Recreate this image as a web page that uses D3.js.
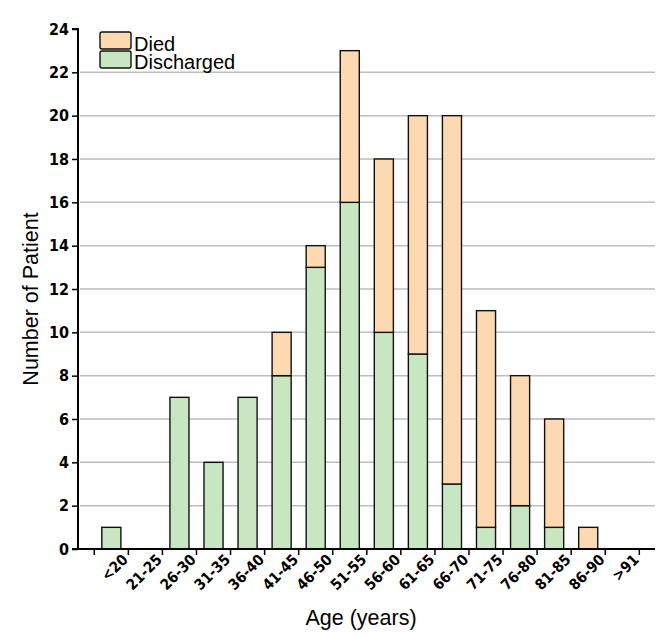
<!DOCTYPE html>
<html><head><meta charset="utf-8">
<script src="https://cdn.jsdelivr.net/npm/d3@7"></script>
<style>html,body{margin:0;padding:0;background:#fff;}</style>
</head><body>
<svg id="c" width="664" height="636"></svg>
<script>
const categories = ["<20","21-25","26-30","31-35","36-40","41-45","46-50","51-55","56-60","61-65","66-70","71-75","76-80","81-85","86-90",">91"];
const discharged = [1,0,7,4,7,8,13,16,10,9,3,1,2,1,0,0];
const died       = [0,0,0,0,0,2,1,7,8,11,17,10,6,5,1,0];
const yTicks = [0,2,4,6,8,10,12,14,16,18,20,22,24];
const seriesNames = ["Died","Discharged"];
const colors = {Died:"#fdd9b2", Discharged:"#c8e6c2"};

const tickFont = "'DejaVu Sans Condensed', 'DejaVu Sans', sans-serif";
const titleFont = "Arial, 'Liberation Sans', sans-serif";

const svg = d3.select("#c");
const x0 = 78, xEnd = 655, y0 = 549, yTop = 29;
const x = d3.scaleBand().domain(categories).range([94.3, 639.3]).paddingInner(0.44).paddingOuter(0.22);
const y = d3.scaleLinear().domain([0,24]).range([y0, yTop]);

// gridlines
svg.append("g").selectAll("line").data(yTicks.filter(t=>t>0 && t<24)).join("line")
  .attr("x1", x0+2).attr("x2", xEnd).attr("y1", d=>y(d)).attr("y2", d=>y(d))
  .attr("stroke","#bdbdbd").attr("stroke-width",1.5);

// stacked bars
const rows = categories.map((c,i)=>({cat:c, Discharged:discharged[i], Died:died[i]}));
const stack = d3.stack().keys(["Discharged","Died"])(rows);
svg.append("g").selectAll("g").data(stack).join("g")
  .attr("fill", d=>colors[d.key])
  .selectAll("rect").data(d=>d.filter(v=>v[1]-v[0]>0)).join("rect")
  .attr("x", d=>x(d.data.cat)).attr("width", x.bandwidth())
  .attr("y", d=>y(d[1])).attr("height", d=>y(d[0])-y(d[1]))
  .attr("stroke","#111").attr("stroke-width",1.4);

// y axis
const yAxis = d3.axisLeft(y).tickValues(yTicks).tickSize(6).tickPadding(3);
const gy = svg.append("g").attr("transform",`translate(${x0},0)`).call(yAxis);
gy.attr("font-size",null);
gy.select(".domain").attr("stroke","#000").attr("stroke-width",2).attr("d",`M-6,${yTop}H0V${y0}`);
gy.selectAll(".tick line").attr("stroke","#000").attr("stroke-width",1.5);
gy.selectAll(".tick text").style("font-family",tickFont).style("font-weight","bold").style("font-size","16px").attr("fill","#000");

// x axis
const gx = svg.append("g").attr("transform",`translate(0,${y0})`);
gx.append("line").attr("x1",x0-6).attr("x2",xEnd).attr("y1",0).attr("y2",0).attr("stroke","#000").attr("stroke-width",2);
const bounds = categories.map(c=>x(c) - x.step()*x.paddingInner()/2).concat([x(categories[categories.length-1]) + x.bandwidth() + x.step()*x.paddingInner()/2]);
gx.selectAll("line.t").data(bounds).join("line").attr("class","t")
  .attr("x1",d=>d).attr("x2",d=>d).attr("y1",0).attr("y2",6).attr("stroke","#000").attr("stroke-width",1.5);
gx.selectAll("text").data(categories).join("text")
  .attr("transform", d=>`translate(${x(d)+x.bandwidth()/2+10},4) rotate(-45)`)
  .attr("text-anchor","end").attr("dy","0.71em")
  .style("font-family",tickFont).style("font-weight","bold").style("font-size","15px").attr("fill","#000")
  .text(d=>d);

// axis titles
svg.append("text").attr("x",361).attr("y",625).attr("text-anchor","middle")
  .attr("font-family",titleFont).attr("font-size",21.5).text("Age (years)");
svg.append("text").attr("transform","translate(38,299) rotate(-90)").attr("text-anchor","middle")
  .attr("font-family",titleFont).attr("font-size",21.5).text("Number of Patient");

// legend
const lg = svg.append("g");
seriesNames.forEach((s,i)=>{
  lg.append("rect").attr("x",100).attr("y",32+i*19).attr("width",31).attr("height",17)
    .attr("rx",2).attr("fill",colors[s]).attr("stroke","#111").attr("stroke-width",1.4);
  lg.append("text").attr("x",134).attr("y",50.5+i*18.5)
    .attr("font-family",titleFont).attr("font-size",20).text(s);
});
</script>
</body></html>
